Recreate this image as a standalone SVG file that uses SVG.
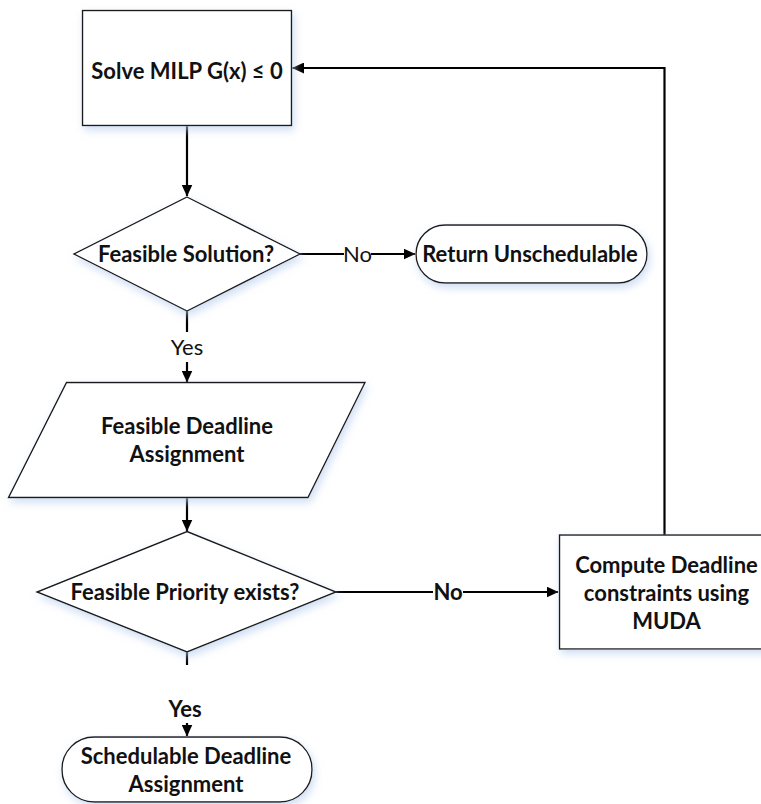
<svg xmlns="http://www.w3.org/2000/svg" width="761" height="804" viewBox="0 0 761 804">
  <defs>
    <style>
      .shape { fill: #ffffff; stroke: #1a1a1a; stroke-width: 1.4; filter: url(#glow); }
      .conn { fill: none; stroke: #000000; stroke-width: 2.2; }
      .lbl { font-family: Lato, "Open Sans", "Liberation Sans", sans-serif; font-size: 22px; font-weight: 700; fill: #111111; text-anchor: middle; }
      .edge { font-family: Lato, "Open Sans", "Liberation Sans", sans-serif; font-size: 22px; font-weight: 400; fill: #111111; text-anchor: middle; }
      .edge.b { font-weight: 700; }
    </style>
    <filter id="glow" x="-10%" y="-10%" width="120%" height="130%">
      <feGaussianBlur in="SourceAlpha" stdDeviation="4" result="blur"/>
      <feOffset in="blur" dx="2" dy="4" result="off"/>
      <feFlood flood-color="#b9cfee" flood-opacity="0.7"/>
      <feComposite in2="off" operator="in" result="shadow"/>
      <feMerge>
        <feMergeNode in="shadow"/>
        <feMergeNode in="SourceGraphic"/>
      </feMerge>
    </filter>
    <marker id="arrow" markerUnits="userSpaceOnUse" viewBox="0 0 12 11" markerWidth="12" markerHeight="11" refX="11.5" refY="5.5" orient="auto">
      <path d="M0,0 L12,5.5 L0,11 Z" fill="#000000"/>
    </marker>
  </defs>

  <rect width="761" height="804" fill="#ffffff"/>

  <!-- connectors -->
  <g id="connectors">
    <line class="conn" x1="187" y1="125" x2="187" y2="196" marker-end="url(#arrow)"/>
    <line class="conn" x1="300" y1="254" x2="344" y2="254"/>
    <text class="edge" x="357.5" y="261.5">No</text>
    <line class="conn" x1="371" y1="254" x2="415" y2="254" marker-end="url(#arrow)"/>
    <line class="conn" x1="187" y1="311" x2="187" y2="332"/>
    <text class="edge" x="187" y="355">Yes</text>
    <line class="conn" x1="187" y1="362" x2="187" y2="382" marker-end="url(#arrow)"/>
    <line class="conn" x1="187" y1="498" x2="187" y2="531" marker-end="url(#arrow)"/>
    <line class="conn" x1="336" y1="592" x2="433" y2="592"/>
    <text class="edge b" x="448" y="599.5">No</text>
    <line class="conn" x1="463" y1="592" x2="558" y2="592" marker-end="url(#arrow)"/>
    <path class="conn" d="M664.5,535 V68 H292.5" marker-end="url(#arrow)"/>
    <line class="conn" x1="187" y1="652" x2="187" y2="665"/>
    <text class="edge b" x="185" y="716.5">Yes</text>
    <line class="conn" x1="187" y1="723" x2="187" y2="736" marker-end="url(#arrow)"/>
  </g>

  <!-- nodes -->
  <g id="solve-milp">
    <rect class="shape" x="82.5" y="10.5" width="209" height="115"/>
    <text class="lbl" x="187" y="79">Solve MILP G(x) ≤ 0</text>
  </g>

  <g id="feasible-solution">
    <polygon class="shape" points="187,197 300,254 187,311 74,254"/>
    <text class="lbl" x="186" y="261.5">Feasible Solution?</text>
  </g>

  <g id="return-unschedulable">
    <rect class="shape" x="416" y="225" width="231" height="58" rx="29" ry="29"/>
    <text class="lbl" x="530" y="261.5">Return Unschedulable</text>
  </g>

  <g id="feasible-deadline">
    <polygon class="shape" points="66.5,382.5 365,382.5 308,497.5 8.5,497.5"/>
    <text class="lbl" x="187" y="433.5">Feasible Deadline</text>
    <text class="lbl" x="187" y="461.5">Assignment</text>
  </g>

  <g id="feasible-priority">
    <polygon class="shape" points="187,531.5 336,592 187,652 37,592"/>
    <text class="lbl" x="185" y="599.5">Feasible Priority exists?</text>
  </g>

  <g id="compute-deadline">
    <rect class="shape" x="559.5" y="535" width="215" height="114"/>
    <text class="lbl" x="666.5" y="572.5">Compute Deadline</text>
    <text class="lbl" x="666.5" y="600.5">constraints using</text>
    <text class="lbl" x="666.5" y="628.5">MUDA</text>
  </g>

  <g id="schedulable-deadline">
    <rect class="shape" x="62" y="737" width="250" height="65" rx="32" ry="32"/>
    <text class="lbl" x="186" y="764">Schedulable Deadline</text>
    <text class="lbl" x="186" y="791.5">Assignment</text>
  </g>
</svg>
